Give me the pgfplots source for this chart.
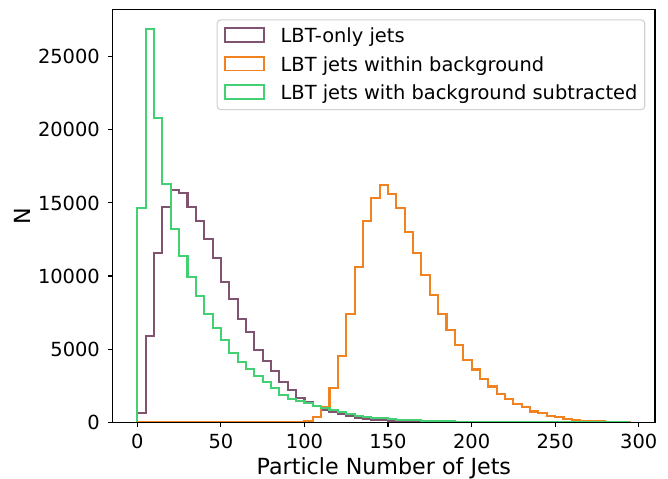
\documentclass[border=0pt]{standalone}
\usepackage{pgfplots}
\usepackage{pgfplotstable}
\pgfplotsset{compat=1.18}
\usepackage{fontspec}
\setmainfont{DejaVu Sans}

\definecolor{cpurple}{RGB}{128,84,112}
\definecolor{corange}{RGB}{240,131,32}
\definecolor{cgreen}{RGB}{66,208,115}

% left bin edges (width 5), counts
\pgfplotstableread{
x y
0 0
0 615
5 5920
10 11550
15 14740
20 15880
25 15660
30 14750
35 13760
40 12510
45 11250
50 9610
55 8430
60 7060
65 6150
70 4940
75 4190
80 3510
85 2780
90 2210
95 1680
100 1380
105 1100
110 840
115 730
120 545
125 430
130 320
135 250
140 180
145 130
150 100
155 75
160 55
165 40
170 30
175 22
180 15
185 11
190 8
195 5
200 4
205 3
210 2
215 1
220 1
225 1
230 0
235 0
240 0
245 0
250 0
255 0
260 0
265 0
270 0
275 0
280 0
285 0
290 0
295 0
}\dataonly

\pgfplotstableread{
x y
0 0
0 0
5 0
10 0
15 0
20 0
25 0
30 0
35 0
40 0
45 0
50 0
55 0
60 0
65 0
70 0
75 0
80 0
85 5
90 20
95 45
100 120
105 380
110 1070
115 2370
120 4550
125 7400
130 10640
135 13770
140 15360
145 16250
150 15620
155 14660
160 13030
165 11600
170 10070
175 8720
180 7420
185 6300
190 5290
195 4250
200 3610
205 2960
210 2450
215 1960
220 1570
225 1280
230 1030
235 740
240 615
245 455
250 340
255 230
260 170
265 120
270 80
275 60
280 40
285 30
290 20
295 0
}\datawithin

\pgfplotstableread{
x y
0 0
0 14630
5 26870
10 20830
15 16270
20 13200
25 11390
30 9910
35 8660
40 7400
45 6430
50 5630
55 4720
60 4100
65 3620
70 3180
75 2740
80 2320
85 1890
90 1620
95 1450
100 1300
105 1130
110 1000
115 840
120 730
125 565
130 450
135 360
140 315
145 270
150 225
155 180
160 160
165 135
170 110
175 90
180 75
185 60
190 48
195 38
200 30
205 24
210 19
215 15
220 12
225 9
230 7
235 5
240 4
245 3
250 2
255 2
260 1
265 1
270 1
275 1
280 0
285 0
290 0
295 0
}\datasub

\begin{document}
\begin{tikzpicture}
\begin{axis}[
  at={(0,0)}, anchor=south west,
  scale only axis,
  axis on top,
  width=542.3bp, height=412.6bp,
  xmin=-14.75, xmax=309.75,
  ymin=0, ymax=28210,
  xtick={0,50,...,300},
  ytick={0,5000,...,25000},
  scaled y ticks=false,
  /pgf/number format/set thousands separator={},
  /pgf/number format/assume math mode=true,
  xtick pos=bottom, ytick pos=left,
  tick align=outside,
  major tick length=4.86bp,
  tick style={line width=1.1bp, black},
  axis line style={line width=1.1bp, black},
  ticklabel style={font=\fontsize{19.5}{23}\selectfont, inner sep=0pt, text height=14.2bp, text depth=0pt},
  xticklabel style={anchor=north, yshift=-6.8bp},
  yticklabel style={anchor=east, xshift=-7.8bp},
  xlabel={Particle Number of Jets},
  ylabel={N},
  xlabel style={font=\fontsize{22.3}{26}\selectfont, at={(axis description cs:0.5,-0.1253)}, anchor=base, inner sep=0pt},
  ylabel style={font=\fontsize{22.3}{26}\selectfont, at={(axis description cs:-0.1663,0.5)}, anchor=center, rotate=0, inner sep=0pt},
  legend cell align=left,
  legend image code/.code={\draw[#1,fill=none,sharp corners,line width=1.8bp] (0bp,1bp) rectangle (38.9bp,14.6bp);},
  legend style={
    at={(1,1)}, anchor=north east, xshift=-9.7bp, yshift=-9.7bp,
    draw=black!18, line width=1.1bp, rounded corners=3.5bp,
    fill=white, fill opacity=0.8, text opacity=1,
    inner xsep=7.3bp, inner ysep=5.1bp,
    row sep=6bp, column sep=15.5bp,
    font=\fontsize{19.5}{23}\selectfont,
    cells={anchor=base west},
    nodes={inner sep=0pt, text height=17.9bp, text depth=4.6bp},
  },
]
\addplot[const plot, cpurple, line width=2.08bp] table[x=x,y=y] {\dataonly};
\addlegendentry{LBT-only jets}
\addplot[const plot, corange, line width=2.08bp] table[x=x,y=y] {\datawithin};
\addlegendentry{LBT jets within background}
\addplot[const plot, cgreen, line width=2.08bp] table[x=x,y=y] {\datasub};
\addlegendentry{LBT jets with background subtracted}
\end{axis}
\pgfresetboundingbox
\useasboundingbox (-112.7bp,-56.7bp) rectangle (555.3bp,422.3bp);
\end{tikzpicture}
\end{document}
